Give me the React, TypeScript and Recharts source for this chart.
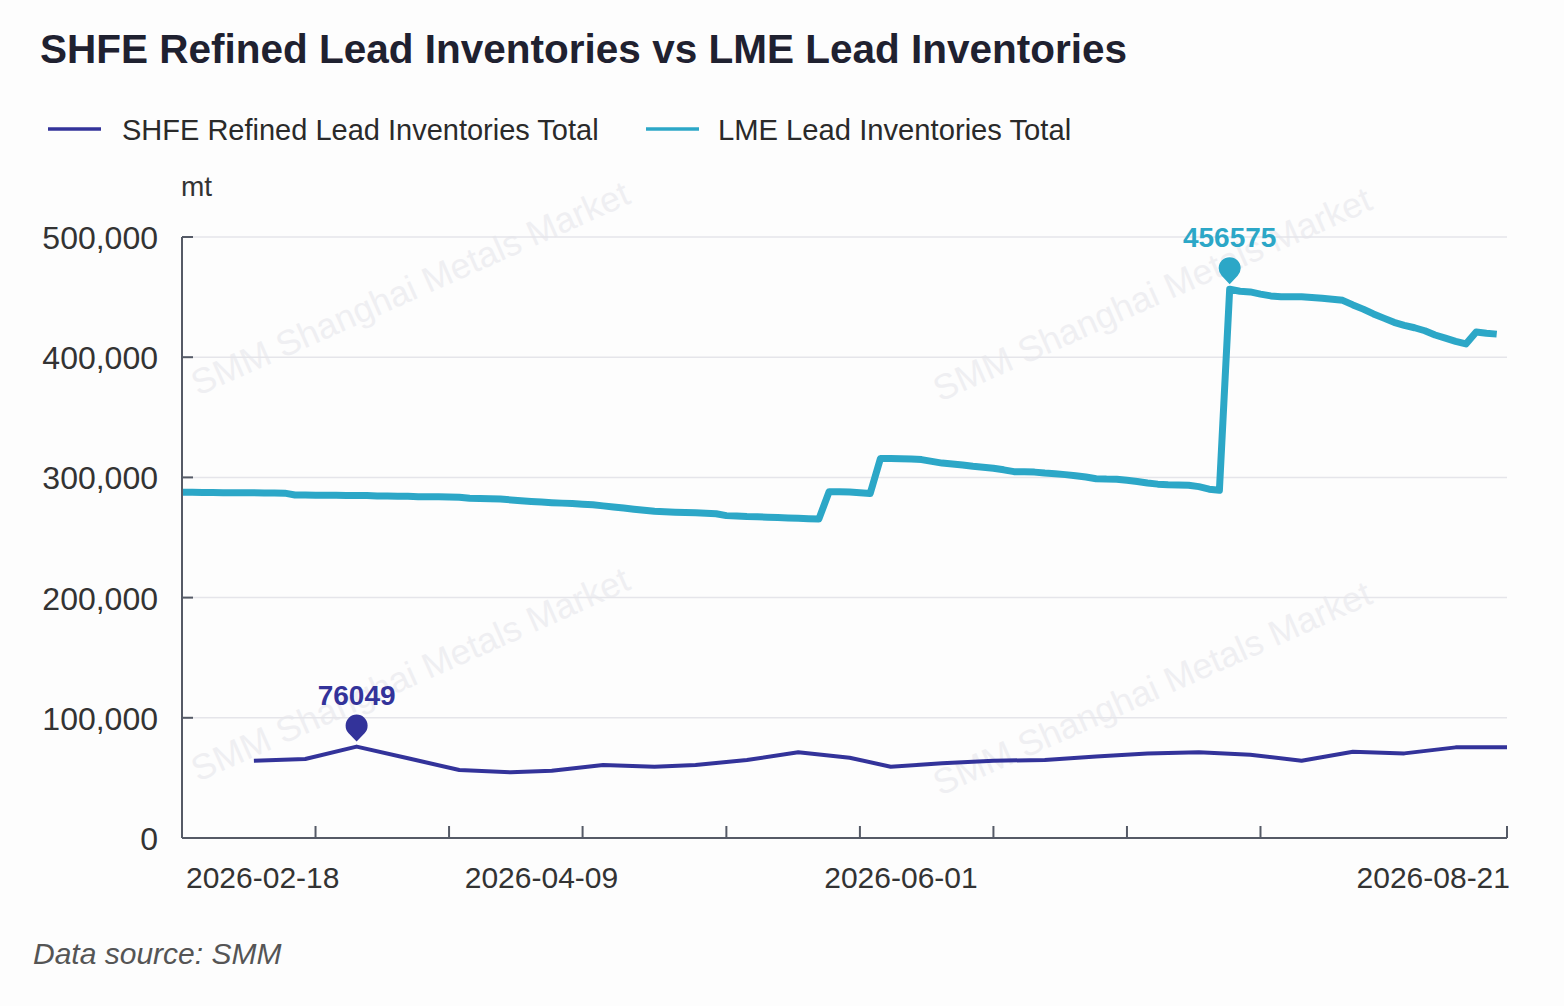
import { LineChart, Line, XAxis, YAxis, CartesianGrid } from "recharts"

// trading days on the axis (LME days plus the SHFE-only 2026-04-03)
const DATES = [
  "2026-02-18", "2026-02-19", "2026-02-20", "2026-02-23", "2026-02-24", "2026-02-25", "2026-02-26", "2026-02-27",
  "2026-03-02", "2026-03-03", "2026-03-04", "2026-03-05", "2026-03-06", "2026-03-09", "2026-03-10", "2026-03-11",
  "2026-03-12", "2026-03-13", "2026-03-16", "2026-03-17", "2026-03-18", "2026-03-19", "2026-03-20", "2026-03-23",
  "2026-03-24", "2026-03-25", "2026-03-26", "2026-03-27", "2026-03-30", "2026-03-31",
  "2026-04-01", "2026-04-02", "2026-04-03", "2026-04-07", "2026-04-08", "2026-04-09", "2026-04-10", "2026-04-13",
  "2026-04-14", "2026-04-15", "2026-04-16", "2026-04-17", "2026-04-20", "2026-04-21", "2026-04-22", "2026-04-23",
  "2026-04-24", "2026-04-27", "2026-04-28", "2026-04-29", "2026-04-30",
  "2026-05-01", "2026-05-05", "2026-05-06", "2026-05-07", "2026-05-08", "2026-05-11", "2026-05-12", "2026-05-13",
  "2026-05-14", "2026-05-15", "2026-05-18", "2026-05-19", "2026-05-20", "2026-05-21", "2026-05-22", "2026-05-26",
  "2026-05-27", "2026-05-28", "2026-05-29",
  "2026-06-01", "2026-06-02", "2026-06-03", "2026-06-04", "2026-06-05", "2026-06-08", "2026-06-09", "2026-06-10",
  "2026-06-11", "2026-06-12", "2026-06-15", "2026-06-16", "2026-06-17", "2026-06-18", "2026-06-19", "2026-06-22",
  "2026-06-23", "2026-06-24", "2026-06-25", "2026-06-26", "2026-06-29", "2026-06-30",
  "2026-07-01", "2026-07-02", "2026-07-03", "2026-07-06", "2026-07-07", "2026-07-08", "2026-07-09", "2026-07-10",
  "2026-07-13", "2026-07-14", "2026-07-15", "2026-07-16", "2026-07-17", "2026-07-20", "2026-07-21", "2026-07-22",
  "2026-07-23", "2026-07-24", "2026-07-27", "2026-07-28", "2026-07-29", "2026-07-30", "2026-07-31",
  "2026-08-03", "2026-08-04", "2026-08-05", "2026-08-06", "2026-08-07", "2026-08-10", "2026-08-11", "2026-08-12",
  "2026-08-13", "2026-08-14", "2026-08-17", "2026-08-18", "2026-08-19", "2026-08-20", "2026-08-21",
]

// LME lead inventories, one per DATES entry (null = no LME print)
const LME_TOTAL = [
  287600, 287600, 287400, 287400, 287300, 287300, 287200, 287200, 287100, 287000, 286900,
  285400, 285300, 285200, 285200, 285100, 285000, 285000, 284900,
  284600, 284500, 284400, 284300,
  284000, 283900, 283800, 283700, 283500,
  282700, 282500, 282300, 282000,
  null,
  280600, 280000,
  279500, 279000, 278600, 278200, 277700, 277200,
  276300, 275400, 274500, 273500, 272600, 271800,
  271400, 271100, 270800, 270500, 270200, 269800,
  268200, 267800,
  267400, 267200, 266900, 266600, 266300, 266000, 265600, 265300,
  288000, 288000, 287800, 287200, 286600,
  315800, 315800, 315600, 315300,
  314800, 313300, 311900, 311100, 310300, 309300, 308500, 307600, 306300, 304800,
  304600, 304400, 303600, 303000, 302300, 301300, 300300, 298900, 298600, 298500,
  297600, 296600, 295400, 294400, 293900, 293700, 293500, 292300, 290200, 289300,
  456575, 454900, 454300, 452500, 451000, 450300, 450300, 450200, 449600, 449000,
  448200, 447300, 443500, 440000, 436000, 432500, 429000, 426500, 424500, 422000,
  418500, 415800, 413200, 411000, 421000, 420000, 419200,
  null,
]

// SHFE weekly prints
const SHFE_DATES = [
  "2026-02-27", "2026-03-06", "2026-03-13", "2026-03-20", "2026-03-27", "2026-04-03", "2026-04-10",
  "2026-04-17", "2026-04-24", "2026-04-30", "2026-05-08", "2026-05-15", "2026-05-22", "2026-05-29",
  "2026-06-05", "2026-06-12", "2026-06-19", "2026-06-26", "2026-07-03", "2026-07-10", "2026-07-17",
  "2026-07-24", "2026-07-31", "2026-08-07", "2026-08-14", "2026-08-21",
]
const SHFE_TOTAL = [
  64300, 65700, 76049, 66300, 56600, 54600, 56000,
  60700, 59300, 60700, 64900, 71300, 66800, 59300,
  62100, 64300, 64900, 67800, 70300, 71300, 69200,
  64300, 71800, 70400, 75400, 75400,
]

const Y_TICKS = [0, 100000, 200000, 300000, 400000, 500000]
const X_TICK_MARKS = [
  "2026-03-09", "2026-03-26", "2026-04-15", "2026-05-06", "2026-05-26",
  "2026-06-12", "2026-07-01", "2026-07-20", "2026-08-21",
]
const X_TICK_LABELS = ["2026-02-18", "2026-04-09", "2026-06-01", "2026-08-21"]

const SHFE_COLOUR = "#33339a"
const LME_COLOUR = "#2ca7c7"
const AXIS_COLOUR = "#555a66"
const GRID_COLOUR = "#e5e5ea"
const FONT = '"Liberation Sans", Arial, sans-serif'

const W = 1564
const H = 1006
const Y_AXIS_W = 150
const X_AXIS_H = 80

const shfeByDate: Record<string, number> = {}
SHFE_DATES.forEach((d, i) => { shfeByDate[d] = SHFE_TOTAL[i] })

const rows = DATES.map((date, i) => ({
  date,
  lme: LME_TOTAL[i],
  shfe: shfeByDate[date] ?? null,
}))

const X_TICKS = Array.from(new Set([...X_TICK_LABELS, ...X_TICK_MARKS])).sort()

function XTick(props: any) {
  const { x, y, payload } = props
  const v = payload.value
  const first = v === X_TICK_LABELS[0]
  const last = v === X_TICK_LABELS[X_TICK_LABELS.length - 1]
  return (
    <g>
      {X_TICK_MARKS.includes(v) && (
        <line x1={x} x2={x} y1={y} y2={y - 12} stroke={AXIS_COLOUR} strokeWidth={2} />
      )}
      {X_TICK_LABELS.includes(v) && (
        <text
          x={first ? x + 4 : last ? x + 3 : x}
          y={y + 50}
          textAnchor={first ? "start" : last ? "end" : "middle"}
          fontSize={30}
          fontFamily={FONT}
          fill="#333"
        >
          {v}
        </text>
      )}
    </g>
  )
}

function YTick(props: any) {
  const { x, y, payload } = props
  return (
    <g>
      <line x1={x} x2={x + 11} y1={y} y2={y} stroke={AXIS_COLOUR} strokeWidth={2} />
      <text x={x - 24} y={y + 12} textAnchor="end" fontSize={32} fontFamily={FONT} fill="#333">
        {Number(payload.value).toLocaleString("en-US")}
      </text>
    </g>
  )
}

// ECharts-style pin over the series maximum
function makePin(colour: string, peakDate: string, peakValue: number) {
  return (props: any) => {
    const { cx, cy, payload, index } = props
    if (payload?.date !== peakDate || cx == null || cy == null) return <g key={`p-${index}`} />
    const r = 11
    const cc = cy - 21
    const tip = cy - 5
    const d = tip - cc
    const a = Math.acos(r / d)
    const px = r * Math.sin(a)
    const py = cc + r * Math.cos(a)
    return (
      <g key={`p-${index}`}>
        <path
          d={`M ${cx} ${tip} L ${cx + px} ${py} A ${r} ${r} 0 1 0 ${cx - px} ${py} Z`}
          fill={colour}
        />
        <text
          x={cx}
          y={cy - 42}
          textAnchor="middle"
          fontSize={28}
          fontWeight="bold"
          fontFamily={FONT}
          fill={colour}
        >
          {peakValue}
        </text>
      </g>
    )
  }
}

const WATERMARKS = [
  { x: 198, y: 396 },
  { x: 940, y: 402 },
  { x: 198, y: 782 },
  { x: 940, y: 796 },
]

export default function App() {
  const lmePeak = Math.max(...(LME_TOTAL.filter((v) => v != null) as number[]))
  const shfePeak = Math.max(...SHFE_TOTAL)
  const lmePeakDate = DATES[LME_TOTAL.indexOf(lmePeak)]
  const shfePeakDate = SHFE_DATES[SHFE_TOTAL.indexOf(shfePeak)]

  return (
    <div style={{ position: "absolute", left: 0, top: 0, width: W, height: H, background: "#fdfdfd" }}>
      <svg width={W} height={H} style={{ position: "absolute", left: 0, top: 0 }}>
        {WATERMARKS.map((w, i) => (
          <text
            key={i}
            x={w.x}
            y={w.y}
            transform={`rotate(-24 ${w.x} ${w.y})`}
            fontSize={35.5}
            fontFamily={FONT}
            fill="#efeff2"
          >
            SMM Shanghai Metals Market
          </text>
        ))}

        <text x={40} y={63} fontSize={40.5} fontWeight="bold" fontFamily={FONT} fill="#1f2130">
          SHFE Refined Lead Inventories vs LME Lead Inventories
        </text>

        {/* legend */}
        <line x1={48} x2={101} y1={129} y2={129} stroke={SHFE_COLOUR} strokeWidth={3.5} />
        <text x={122} y={140} fontSize={29} fontFamily={FONT} fill="#2a2a2a">
          SHFE Refined Lead Inventories Total
        </text>
        <line x1={646} x2={699} y1={129} y2={129} stroke={LME_COLOUR} strokeWidth={3.5} />
        <text x={718} y={140} fontSize={29.2} fontFamily={FONT} fill="#2a2a2a">
          LME Lead Inventories Total
        </text>

        <text x={181} y={196} fontSize={28} fontFamily={FONT} fill="#333">
          mt
        </text>

        <text x={33} y={964} fontSize={30} fontStyle="italic" fontFamily={FONT} fill="#555">
          Data source: SMM
        </text>
      </svg>

      <div style={{ position: "absolute", left: 0, top: 0 }}>
        <LineChart
          width={W}
          height={H}
          data={rows}
          margin={{ top: 237, right: W - 1507, bottom: H - 838 - X_AXIS_H, left: 182 - Y_AXIS_W }}
        >
          <CartesianGrid vertical={false} stroke={GRID_COLOUR} strokeWidth={1.5} />
          <XAxis
            dataKey="date"
            type="category"
            ticks={X_TICKS}
            interval={0}
            height={X_AXIS_H}
            tickLine={false}
            tickSize={0}
            tickMargin={0}
            axisLine={{ stroke: AXIS_COLOUR, strokeWidth: 2 }}
            tick={(p: any) => <XTick {...p} />}
          />
          <YAxis
            type="number"
            domain={[0, 500000]}
            ticks={Y_TICKS}
            interval={0}
            width={Y_AXIS_W}
            tickLine={false}
            tickSize={0}
            tickMargin={0}
            axisLine={{ stroke: AXIS_COLOUR, strokeWidth: 2 }}
            tick={(p: any) => <YTick {...p} />}
          />
          <Line
            type="linear"
            dataKey="lme"
            stroke={LME_COLOUR}
            strokeWidth={7}
            strokeLinejoin="round"
            connectNulls
            dot={makePin(LME_COLOUR, lmePeakDate, lmePeak)}
            activeDot={false}
            isAnimationActive={false}
          />
          <Line
            type="linear"
            dataKey="shfe"
            stroke={SHFE_COLOUR}
            strokeWidth={4}
            strokeLinejoin="round"
            connectNulls
            dot={makePin(SHFE_COLOUR, shfePeakDate, shfePeak)}
            activeDot={false}
            isAnimationActive={false}
          />
        </LineChart>
      </div>
    </div>
  )
}
